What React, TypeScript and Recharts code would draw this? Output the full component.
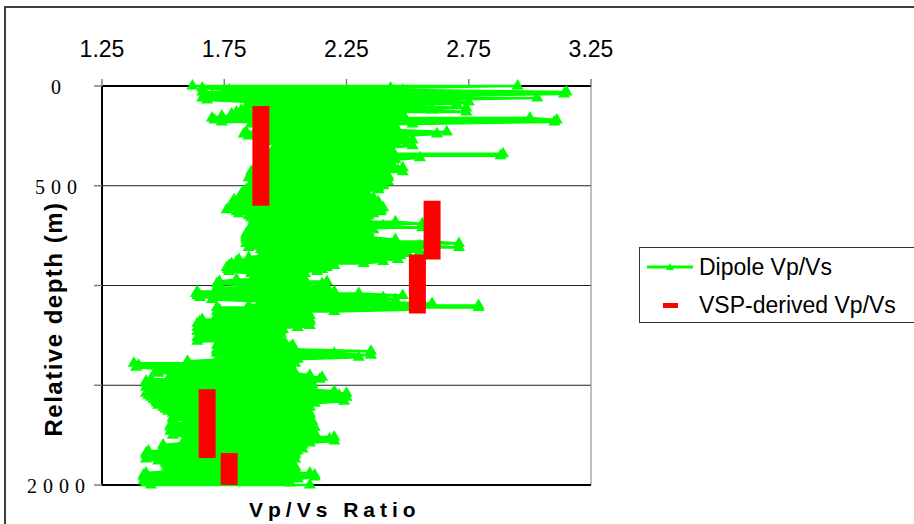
import React from 'react';
import { ScatterChart, Scatter, XAxis, YAxis, ZAxis, CartesianGrid, ReferenceLine, Legend } from 'recharts';

const xTicks = [1.25, 1.75, 2.25, 2.75, 3.25];
const yTicks = [0, 500, 1000, 1500, 2000];
// labels of 1000 and 1500 are hidden behind the axis title in the original
const yTickLabels = ['0', '500', '', '', '2000'];

const seriesDipole = 'Dipole Vp/Vs';
const seriesVsp = 'VSP-derived Vp/Vs';
const xTitle = 'Vp/Vs Ratio';
const yTitle = 'Relative depth (m)';

const dipoleDepth = [
  0, 10, 20, 30, 40, 50, 60, 70, 80, 90,
  100, 110, 120, 130, 140, 150, 160, 170, 180, 190,
  200, 210, 220, 230, 240, 250, 260, 270, 280, 290,
  300, 310, 320, 330, 340, 350, 360, 370, 380, 390,
  400, 410, 420, 430, 440, 450, 460, 470, 480, 490,
  500, 510, 520, 530, 540, 550, 560, 570, 580, 590,
  600, 610, 620, 630, 640, 650, 660, 670, 680, 690,
  700, 710, 720, 730, 740, 750, 760, 770, 780, 790,
  800, 810, 820, 830, 840, 850, 860, 870, 880, 890,
  900, 910, 920, 930, 940, 950, 960, 970, 980, 990,
  1000, 1010, 1020, 1030, 1040, 1050, 1060, 1070, 1080, 1090,
  1100, 1110, 1120, 1130, 1140, 1150, 1160, 1170, 1180, 1190,
  1200, 1210, 1220, 1230, 1240, 1250, 1260, 1270, 1280, 1290,
  1300, 1310, 1320, 1330, 1340, 1350, 1360, 1370, 1380, 1390,
  1400, 1410, 1420, 1430, 1440, 1450, 1460, 1470, 1480, 1490,
  1500, 1510, 1520, 1530, 1540, 1550, 1560, 1570, 1580, 1590,
  1600, 1610, 1620, 1630, 1640, 1650, 1660, 1670, 1680, 1690,
  1700, 1710, 1720, 1730, 1740, 1750, 1760, 1770, 1780, 1790,
  1800, 1810, 1820, 1830, 1840, 1850, 1860, 1870, 1880, 1890,
  1900, 1910, 1920, 1930, 1940, 1950, 1960, 1970, 1980, 1990,
  2000,
];

const dipoleLow = [
  1.62, 1.66, 1.77, 1.66, 1.67, 1.70, 1.66, 1.68, 1.85, 1.88,
  1.86, 1.84, 1.82, 1.80, 1.78, 1.74, 1.70, 1.71, 1.74, 1.86,
  1.90, 1.96, 1.88, 1.84, 1.83, 1.85, 1.92, 1.95, 1.94, 1.97,
  1.96, 1.98, 1.95, 1.99, 1.96, 1.94, 1.97, 1.95, 1.93, 1.90,
  1.88, 1.92, 1.89, 1.86, 1.88, 1.90, 1.85, 1.87, 1.89, 1.86,
  1.88, 1.86, 1.84, 1.83, 1.82, 1.83, 1.82, 1.79, 1.80, 1.78,
  1.79, 1.77, 1.76, 1.80, 1.81, 1.85, 1.86, 1.87, 1.88, 1.87,
  1.86, 1.88, 1.86, 1.85, 1.84, 1.84, 1.84, 1.84, 1.85, 1.84,
  1.86, 1.85, 1.90, 1.93, 1.93, 1.90, 1.85, 1.81, 1.80, 1.78,
  1.77, 1.76, 1.765, 1.77, 1.86, 1.88, 1.87, 1.80, 1.73, 1.72,
  1.84, 1.72, 1.74, 1.64, 1.635, 1.64, 1.65, 1.70, 1.90, 1.92,
  1.85, 1.72, 1.73, 1.72, 1.73, 1.72, 1.74, 1.66, 1.65, 1.64,
  1.66, 1.64, 1.65, 1.64, 1.66, 1.65, 1.64, 1.645, 1.64, 1.75,
  1.72, 1.73, 1.72, 1.72, 1.72, 1.73, 1.76, 1.75, 1.60, 1.38,
  1.40, 1.39, 1.50, 1.47, 1.48, 1.53, 1.53, 1.45, 1.43, 1.43,
  1.44, 1.43, 1.46, 1.44, 1.43, 1.44, 1.45, 1.46, 1.47, 1.475,
  1.48, 1.50, 1.51, 1.52, 1.54, 1.55, 1.54, 1.54, 1.60, 1.54,
  1.53, 1.53, 1.54, 1.53, 1.55, 1.54, 1.60, 1.62, 1.60, 1.58,
  1.50, 1.50, 1.51, 1.44, 1.43, 1.43, 1.44, 1.43, 1.48, 1.51,
  1.515, 1.52, 1.515, 1.53, 1.43, 1.42, 1.42, 1.43, 1.42, 1.43,
  1.45,
];

const dipoleHigh = [
  2.95, 2.43, 2.48, 3.15, 3.14, 2.60, 3.03, 2.55, 2.75, 2.70,
  2.50, 2.74, 2.60, 2.74, 2.48, 2.45, 3.00, 3.11, 3.10, 2.52,
  2.45, 2.42, 2.45, 2.66, 2.62, 2.48, 2.44, 2.52, 2.50, 2.45,
  2.52, 2.42, 2.39, 2.44, 2.89, 2.88, 2.55, 2.45, 2.40, 2.42,
  2.44, 2.48, 2.46, 2.48, 2.40, 2.42, 2.42, 2.40, 2.42, 2.40,
  2.40, 2.38, 2.38, 2.30, 2.32, 2.34, 2.36, 2.34, 2.38, 2.36,
  2.38, 2.40, 2.39, 2.39, 2.36, 2.34, 2.33, 2.30, 2.45, 2.56,
  2.40, 2.56, 2.36, 2.34, 2.32, 2.30, 2.35, 2.45, 2.60, 2.71,
  2.55, 2.71, 2.52, 2.55, 2.50, 2.47, 2.45, 2.46, 2.40, 2.32,
  2.20, 2.17, 2.15, 2.13, 2.08, 2.07, 2.06, 2.08, 2.17, 2.15,
  2.08, 2.17, 2.15, 2.20, 2.30, 2.48, 2.40, 2.45, 2.30, 2.60,
  2.79, 2.79, 2.55, 2.20, 2.09, 2.10, 2.07, 2.10, 2.10, 2.08,
  2.10, 2.05, 1.99, 1.98, 1.98, 1.97, 1.98, 1.97, 1.96, 2.00,
  2.03, 2.02, 2.03, 2.35, 2.20, 2.35, 2.30, 2.05, 2.03, 2.04,
  2.02, 2.00, 2.03, 2.02, 2.04, 2.10, 2.15, 2.14, 2.10, 2.11,
  2.11, 2.06, 2.08, 2.20, 2.25, 2.22, 2.25, 2.23, 2.24, 2.12,
  2.09, 2.10, 2.08, 2.09, 2.10, 2.10, 2.08, 2.10, 2.11, 2.09,
  2.10, 2.12, 2.09, 2.11, 2.12, 2.10, 2.20, 2.18, 2.20, 2.10,
  2.07, 2.06, 2.07, 2.05, 2.04, 2.04, 2.03, 2.04, 2.01, 2.00,
  2.03, 2.04, 2.04, 2.02, 2.10, 2.12, 2.12, 2.05, 2.01, 2.02,
  2.10,
];

const vspValue = [1.90, 2.60, 2.54, 1.68, 1.77];
const vspTop = [100, 575, 845, 1520, 1840];
const vspBottom = [600, 870, 1140, 1865, 2000];

// the log is drawn as a continuous trace sweeping across each depth row
const dipolePoints: { v: number; d: number }[] = [];
dipoleDepth.forEach((d, i) => {
  const a = { v: dipoleLow[i], d };
  const b = { v: dipoleHigh[i], d };
  if (i % 2 === 0) dipolePoints.push(a, b);
  else dipolePoints.push(b, a);
});

const vspSegments = vspValue.map((v, i) => [
  { v, d: vspTop[i] },
  { v, d: vspBottom[i] },
]);

const SANS = '"Liberation Sans", Arial, sans-serif';
const SERIF = '"Liberation Serif", "Times New Roman", serif';

const renderXTick = (props: any) => {
  const { x, payload } = props;
  return (
    <text x={x} y={57} textAnchor="middle" fontFamily={SANS} fontSize={23} fill="#000">
      {Number(payload.value).toFixed(2)}
    </text>
  );
};

const renderYTick = (props: any) => {
  const { y, payload } = props;
  const idx = yTicks.indexOf(payload.value);
  const label = idx >= 0 ? yTickLabels[idx] : '';
  if (!label) return <g />;
  return (
    <text x={59} y={y + 8} textAnchor="middle" fontFamily={SERIF} fontSize={20} letterSpacing={6} fill="#000">
      {label}
    </text>
  );
};

const renderYTitle = () => (
  <text
    x={62}
    y={319}
    transform="rotate(-90, 62, 319)"
    textAnchor="middle"
    fontFamily={SANS}
    fontWeight="bold"
    fontSize={24}
    letterSpacing={1.5}
    fill="#000"
  >
    {yTitle}
  </text>
);

const renderXTitle = () => (
  <text x={249} y={517} textAnchor="start" fontFamily={SANS} fontWeight="bold" fontSize={21} letterSpacing={5} fill="#000">
    {xTitle}
  </text>
);

const renderNone = () => <g />;

const renderLegend = () => (
  <div
    style={{
      width: 275,
      height: 76,
      boxSizing: 'border-box',
      borderTop: '1px solid #333',
      borderLeft: '1px solid #333',
      borderBottom: '1px solid #333',
      background: '#fff',
    }}
  >
    <svg width={274} height={74} style={{ display: 'block' }}>
      <line x1={7} x2={53} y1={19} y2={19} stroke="#00FF00" strokeWidth={3} />
      <polygon points="30,15 34,22 26,22" fill="#00FF00" />
      <text x={59} y={27} fontFamily={SANS} fontSize={23} fill="#000">
        {seriesDipole}
      </text>
      <rect x={23} y={55} width={15} height={5} fill="#FF0000" />
      <text x={59} y={65} fontFamily={SANS} fontSize={23} fill="#000">
        {seriesVsp}
      </text>
    </svg>
  </div>
);

export default function App() {
  return (
    <div style={{ position: 'absolute', left: 0, top: 0, width: 914, height: 524, overflow: 'hidden', background: '#fff' }}>
      <div
        style={{
          position: 'absolute',
          left: 4,
          top: 6,
          width: 910,
          height: 518,
          borderTop: '2px solid #404040',
          borderLeft: '2px solid #404040',
          boxSizing: 'border-box',
        }}
      />
      <div style={{ position: 'absolute', left: 0, top: 0 }}>
        <ScatterChart width={914} height={524} margin={{ top: 56, right: 323, bottom: 39, left: 42 }}>
          <CartesianGrid horizontal vertical={false} stroke="#222" strokeWidth={1} />
          <XAxis
            type="number"
            dataKey="v"
            orientation="top"
            domain={[1.25, 3.25]}
            ticks={xTicks}
            interval={0}
            height={30}
            tickSize={7}
            axisLine={{ stroke: '#000', strokeWidth: 2 }}
            tickLine={{ stroke: '#808080', strokeWidth: 1.5 }}
            tick={renderXTick}
            label={renderXTitle}
          />
          <YAxis
            type="number"
            dataKey="d"
            reversed
            domain={[0, 2000]}
            ticks={yTicks}
            interval={0}
            width={60}
            tickSize={8}
            axisLine={{ stroke: '#000', strokeWidth: 2 }}
            tickLine={{ stroke: '#808080', strokeWidth: 1.5 }}
            tick={renderYTick}
            label={renderYTitle}
          />
          <ZAxis range={[22, 22]} />
          <ReferenceLine x={3.25} stroke="#808080" strokeWidth={1} />
          <ReferenceLine y={2000} stroke="#000" strokeWidth={2} />
          <Scatter
            name={seriesDipole}
            data={dipolePoints}
            fill="#00FF00"
            line={{ stroke: '#00FF00', strokeWidth: 2.5 }}
            lineType="joint"
            shape="triangle"
            isAnimationActive={false}
          />
          {vspSegments.map((seg, i) => (
            <Scatter
              key={i}
              name={seriesVsp}
              data={seg}
              fill="#FF0000"
              line={{ stroke: '#FF0000', strokeWidth: 17 }}
              lineType="joint"
              shape={renderNone}
              isAnimationActive={false}
            />
          ))}
          <Legend
            layout="horizontal"
            verticalAlign="middle"
            align="center"
            content={renderLegend}
            wrapperStyle={{ left: 639, top: 247, width: 275, height: 76 }}
          />
        </ScatterChart>
      </div>
    </div>
  );
}
